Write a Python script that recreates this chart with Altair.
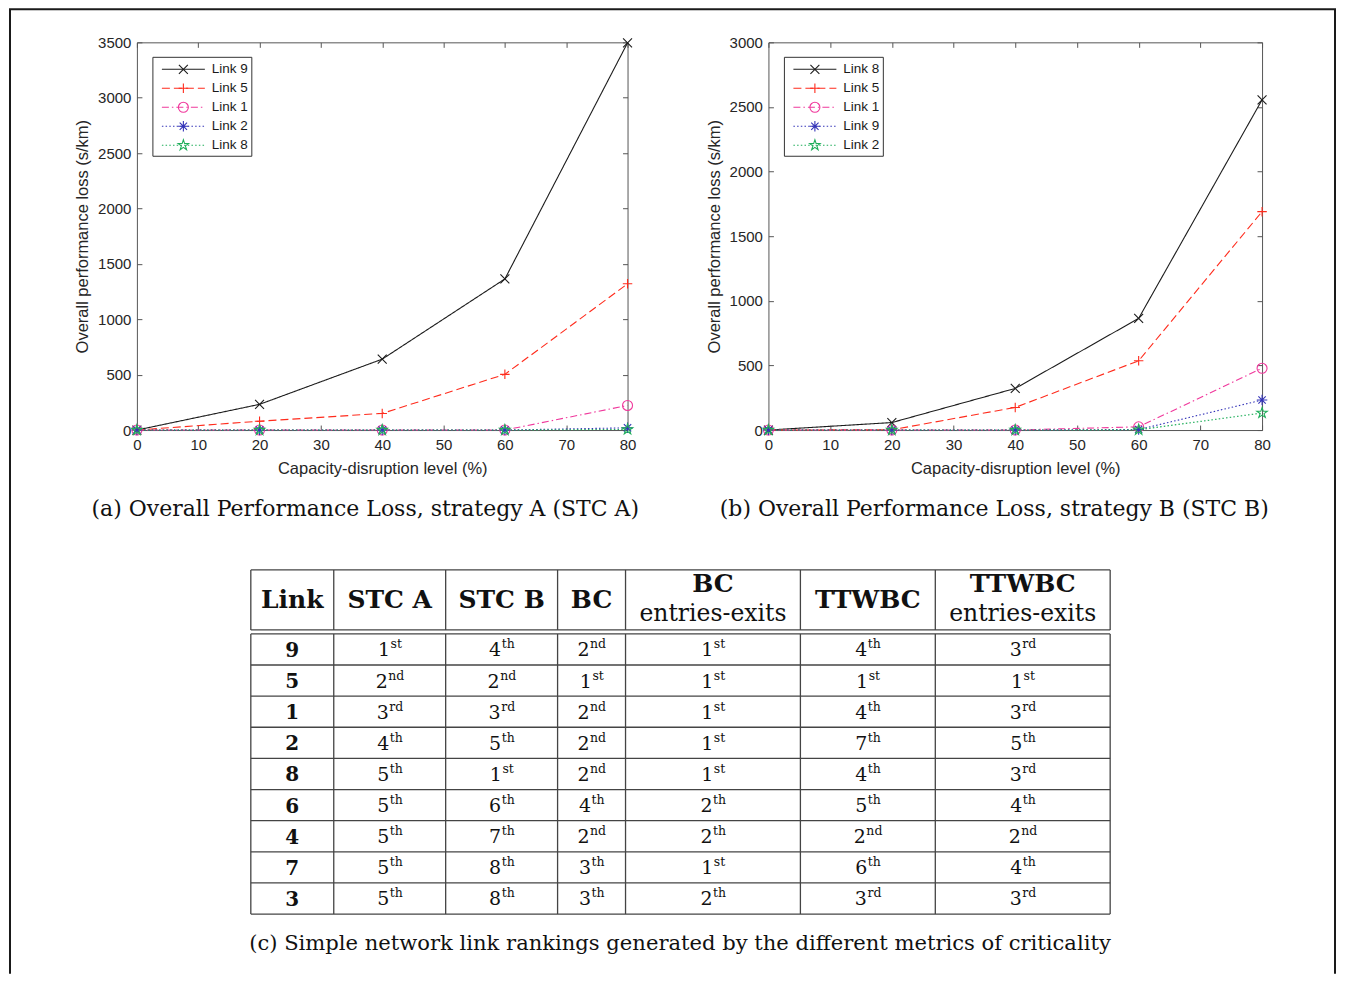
import altair as alt
import pandas as pd

# ---------------- data ----------------
levels = [0, 20, 40, 60, 80]
x_ticks = [0, 10, 20, 30, 40, 50, 60, 70, 80]

# (a) strategy A
a_links = ["Link 9", "Link 5", "Link 1", "Link 2", "Link 8"]
a_link9 = [0, 232, 640, 1364, 3495]
a_link5 = [0, 80, 150, 503, 1320]
a_link1 = [0, 0, 0, 0, 222]
a_link2 = [0, 0, 0, 0, 20]
a_link8 = [0, 0, 0, 0, 6]
a_yticks = [0, 500, 1000, 1500, 2000, 2500, 3000, 3500]

# (b) strategy B
b_links = ["Link 8", "Link 5", "Link 1", "Link 9", "Link 2"]
b_link8 = [0, 58, 322, 864, 2555]
b_link5 = [0, 2, 175, 536, 1690]
b_link1 = [0, 0, 0, 25, 478]
b_link9 = [0, 0, 0, 4, 232]
b_link2 = [0, 0, 0, 2, 132]
b_yticks = [0, 500, 1000, 1500, 2000, 2500, 3000]

# (c) table
header_line1 = ["Link", "STC A", "STC B", "BC", "BC", "TTWBC", "TTWBC"]
header_line2 = ["", "", "", "", "entries-exits", "", "entries-exits"]
table_links = ["9", "5", "1", "2", "8", "6", "4", "7", "3"]
stc_a = ["1st", "2nd", "3rd", "4th", "5th", "5th", "5th", "5th", "5th"]
stc_b = ["4th", "2nd", "3rd", "5th", "1st", "6th", "7th", "8th", "8th"]
bc = ["2nd", "1st", "2nd", "2nd", "2nd", "4th", "2nd", "3th", "3th"]
bc_ee = ["1st", "1st", "1st", "1st", "1st", "2th", "2th", "1st", "2th"]
ttwbc = ["4th", "1st", "4th", "7th", "4th", "5th", "2nd", "6th", "3rd"]
ttwbc_ee = ["3rd", "1st", "3rd", "5th", "3rd", "4th", "2nd", "4th", "3rd"]

caption_a = "(a) Overall Performance Loss, strategy A (STC A)"
caption_b = "(b) Overall Performance Loss, strategy B (STC B)"
caption_c = "(c) Simple network link rankings generated by the different metrics of criticality"

# ---------------- styles ----------------
SANS = "Liberation Sans"
SERIF = "DejaVu Serif"
SLOTS = ["s1", "s2", "s3", "s4", "s5"]  # legend order -> line style
COLORS = ["#1c1c1c", "#ff2b1c", "#f0389c", "#3434b8", "#1fae5a"]
DASHES = [[1, 0], [8, 4], [7, 3, 1.5, 3], [1.5, 2.2], [1.5, 2.2]]
X_PATH = "M-1,-1L1,1M-1,1L1,-1"
PLUS_PATH = "M-1,0L1,0M0,-1L0,1"
AST_PATH = "M-1,0L1,0M0,-1L0,1M-0.7,-0.7L0.7,0.7M-0.7,0.7L0.7,-0.7"
STAR_PATH = ("M0,-1L0.2245,-0.309L0.951,-0.309L0.363,0.118L0.588,0.809L0,0.382"
             "L-0.588,0.809L-0.363,0.118L-0.951,-0.309L-0.2245,-0.309Z")
SHAPES = [X_PATH, PLUS_PATH, "circle", AST_PATH, STAR_PATH]
SIZES = [80, 120, 100, 100, 90]

PLOT_H = 388

color = alt.Color("slot:N", scale=alt.Scale(domain=SLOTS, range=COLORS), legend=None)
dash = alt.StrokeDash("slot:N", scale=alt.Scale(domain=SLOTS, range=DASHES), legend=None)
shape = alt.Shape("slot:N", scale=alt.Scale(domain=SLOTS, range=SHAPES), legend=None)
size = alt.Size("slot:N", scale=alt.Scale(domain=SLOTS, range=SIZES), legend=None)


def panel(links, series, ymax, yticks, caption, width, cap_dx):
    rows = []
    for slot, name, vals in zip(SLOTS, links, series):
        for lv, v in zip(levels, vals):
            rows.append({"level": lv, "loss": v, "series": name, "slot": slot})
    df = pd.DataFrame(rows)
    leg = pd.DataFrame({"series": links, "slot": SLOTS})
    one = pd.DataFrame({"k": [0]})

    xs = alt.Scale(domain=[0, 80], nice=False)
    ys = alt.Scale(domain=[0, ymax], nice=False)

    tick_common = dict(domain=False, grid=False, tickSize=5, tickColor="#555",
                       tickWidth=1, offset=-5)
    lab_common = dict(labelFont=SANS, labelFontSize=15, labelColor="#262626",
                      titleFont=SANS, titleFontSize=16.5, titleFontWeight="normal",
                      titleColor="#262626")

    lines = alt.Chart(df).mark_line(strokeWidth=1.1).encode(
        x=alt.X("level:Q", scale=xs,
                axis=alt.Axis(values=x_ticks, orient="bottom", format="d",
                              title="Capacity-disruption level (%)",
                              labelPadding=7, titlePadding=8, labelFlush=False,
                              **tick_common, **lab_common)),
        y=alt.Y("loss:Q", scale=ys,
                axis=alt.Axis(values=yticks, orient="left", format="d",
                              title="Overall performance loss (s/km)",
                              labelPadding=6, titlePadding=7,
                              **tick_common, **lab_common)),
        color=color, strokeDash=dash)

    pts = alt.Chart(df).mark_point(filled=False, strokeWidth=1.1, opacity=1).encode(
        x=alt.X("level:Q", scale=xs,
                axis=alt.Axis(values=x_ticks, orient="top", labels=False,
                              title=None, **tick_common)),
        y=alt.Y("loss:Q", scale=ys,
                axis=alt.Axis(values=yticks, orient="right", labels=False,
                              title=None, **tick_common)),
        color=color, shape=shape, size=size)

    ly = alt.Y("slot:N", scale=alt.Scale(type="point", domain=SLOTS,
                                         range=[27, 103], padding=0), axis=None)
    box = alt.Chart(one).mark_rect(fill="white", stroke="#333", strokeWidth=1).encode(
        x=alt.value(16), x2=alt.value(115), y=alt.value(15), y2=alt.value(114))
    lrule = alt.Chart(leg).mark_rule(strokeWidth=1.1).encode(
        x=alt.value(25), x2=alt.value(68), y=ly, color=color, strokeDash=dash)
    lpt = alt.Chart(leg).mark_point(filled=False, strokeWidth=1.1, opacity=1).encode(
        x=alt.value(46.5), y=ly, color=color, shape=shape, size=size)
    ltxt = alt.Chart(leg).mark_text(align="left", baseline="middle", font=SANS,
                                    fontSize=13.5, color="#1a1a1a").encode(
        x=alt.value(75), y=ly, text="series:N")

    return (alt.layer(lines, pts, box, lrule, lpt, ltxt)
            .resolve_scale(y="independent")
            .resolve_axis(x="independent")
            .properties(width=width, height=PLOT_H,
                        title=alt.TitleParams(caption, orient="bottom", frame="group",
                                              anchor="middle", font=SERIF, fontSize=22,
                                              fontWeight="normal", color="#111",
                                              offset=23, dx=cap_dx),
                        view=alt.ViewBackground(stroke="#555", strokeWidth=1)))


chart_a = panel(a_links, [a_link9, a_link5, a_link1, a_link2, a_link8],
                3500, a_yticks, caption_a, 491, -17)
chart_b = panel(b_links, [b_link8, b_link5, b_link1, b_link9, b_link2],
                3000, b_yticks, caption_b, 494, -21)

# ---------------- table (layout constants in pixels) ----------------
COL_W = [83, 112, 112, 68, 175, 135, 175]
TBL_X0 = 114
HEAD_H = 60
GAP = 4
ROW_H = 31.15
TBL_W = 491          # cell width in the grid; marks run past it on purpose
TBL_H = 345
HEAD_FS = 25
HEAD2_FS = 23.5
NUM_FS = 19
SUF_FS = 12.5
DIGIT_EM = 0.636
SUFFIX_EM = {"st": 0.915, "nd": 1.284, "rd": 1.118, "th": 1.046}

edges = [TBL_X0]
for w in COL_W:
    edges.append(edges[-1] + w)
centers = [(edges[i] + edges[i + 1]) / 2 for i in range(len(COL_W))]
body_top = HEAD_H + GAP
n_rows = len(table_links)
bottom = body_top + ROW_H * n_rows

segs = []
for yv in [0, HEAD_H, body_top] + [body_top + ROW_H * k for k in range(1, n_rows + 1)]:
    segs.append({"x": edges[0], "x2": edges[-1], "y": yv, "y2": yv})
for xv in edges:
    segs.append({"x": xv, "x2": xv, "y": 0, "y2": HEAD_H})
    segs.append({"x": xv, "x2": xv, "y": body_top, "y2": bottom})
seg_df = pd.DataFrame(segs)

head_bold, head_reg = [], []
for i, (t1, t2) in enumerate(zip(header_line1, header_line2)):
    if t2:
        head_bold.append({"x": centers[i], "y": HEAD_H * 0.24, "t": t1})
        head_reg.append({"x": centers[i], "y": HEAD_H * 0.74, "t": t2})
    else:
        head_bold.append({"x": centers[i], "y": HEAD_H * 0.5, "t": t1})
head_bold_df = pd.DataFrame(head_bold)
head_reg_df = pd.DataFrame(head_reg)

row_centers = [body_top + ROW_H * (i + 0.5) for i in range(n_rows)]
lab_df = pd.DataFrame({"x": [centers[0]] * n_rows, "y": row_centers, "t": table_links})

cells = []
for j, col in enumerate([stc_a, stc_b, bc, bc_ee, ttwbc, ttwbc_ee]):
    c = centers[j + 1]
    for i, rank in enumerate(col):
        num, suf = rank[:-2], rank[-2:]
        wd = DIGIT_EM * NUM_FS * len(num)
        ws = SUFFIX_EM[suf] * SUF_FS
        cells.append({"x": c + (wd - ws) / 2, "y": row_centers[i], "num": num, "suf": suf})
cell_df = pd.DataFrame(cells)

txs = alt.Scale(domain=[0, TBL_W], nice=False)
tys = alt.Scale(domain=[0, TBL_H], nice=False, reverse=True)
X = lambda f: alt.X(f, scale=txs, axis=None)
Y = lambda f: alt.Y(f, scale=tys, axis=None)

grid = alt.Chart(seg_df).mark_rule(color="#444", strokeWidth=1.3).encode(
    x=X("x:Q"), x2="x2:Q", y=Y("y:Q"), y2="y2:Q")
hb = alt.Chart(head_bold_df).mark_text(font=SERIF, fontSize=HEAD_FS, fontWeight="bold",
                                       color="#111", baseline="middle").encode(
    x=X("x:Q"), y=Y("y:Q"), text="t:N")
hr = alt.Chart(head_reg_df).mark_text(font=SERIF, fontSize=HEAD2_FS, color="#111",
                                      baseline="middle").encode(
    x=X("x:Q"), y=Y("y:Q"), text="t:N")
lab = alt.Chart(lab_df).mark_text(font=SERIF, fontSize=20, fontWeight="bold",
                                  color="#111", baseline="alphabetic", dy=7.5).encode(
    x=X("x:Q"), y=Y("y:Q"), text="t:N")
nums = alt.Chart(cell_df).mark_text(font=SERIF, fontSize=NUM_FS, color="#111",
                                    align="right", baseline="alphabetic", dy=7).encode(
    x=X("x:Q"), y=Y("y:Q"), text="num:N")
sufs = alt.Chart(cell_df).mark_text(font=SERIF, fontSize=SUF_FS, color="#111",
                                    align="left", baseline="alphabetic", dy=-1, dx=0.5).encode(
    x=X("x:Q"), y=Y("y:Q"), text="suf:N")

cap_df = pd.DataFrame({"caption": [caption_c]})
cap = alt.Chart(cap_df).mark_text(font=SERIF, fontSize=21.1, color="#111",
                                  baseline="middle", align="center").encode(
    x=alt.value(543.5), y=alt.value(TBL_H + 29), text="caption:N")

# outer frame of the figure (pixel offsets from the table origin)
one = pd.DataFrame({"k": [0]})
FL, FR, FT, FB = -127, 1199, -561, 404
frame_l = alt.Chart(one).mark_rule(color="#1a1a1a", strokeWidth=2).encode(
    x=alt.value(FL), y=alt.value(FT), y2=alt.value(FB))
frame_r = alt.Chart(one).mark_rule(color="#1a1a1a", strokeWidth=2).encode(
    x=alt.value(FR), y=alt.value(FT), y2=alt.value(FB))
frame_t = alt.Chart(one).mark_rule(color="#1a1a1a", strokeWidth=2).encode(
    x=alt.value(FL - 1), x2=alt.value(FR + 1), y=alt.value(FT))

table = alt.layer(grid, hb, hr, lab, nums, sufs, cap, frame_l, frame_r, frame_t).properties(
    width=TBL_W, height=TBL_H, view=alt.ViewBackground(strokeWidth=0))

chart = alt.concat(chart_a, chart_b, table, columns=2,
                   spacing={"row": 140, "column": 141}, bounds="flush").properties(
    padding=0).configure_view(stroke="transparent")

chart.save("out.html", embed_options={"renderer": "svg", "actions": False})
